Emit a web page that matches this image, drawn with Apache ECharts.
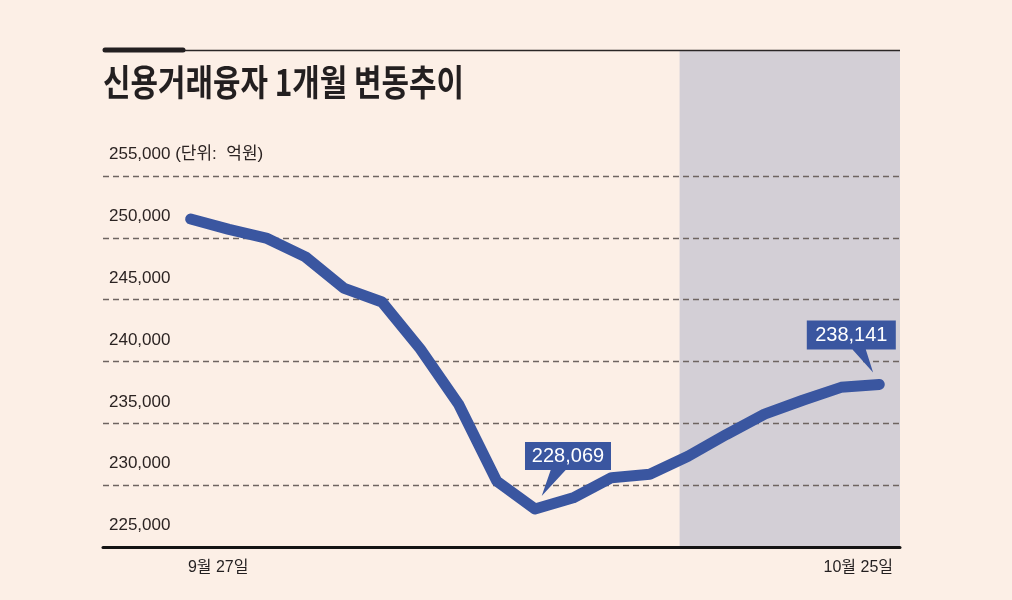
<!DOCTYPE html>
<html>
<head>
<meta charset="utf-8">
<title>신용거래융자 1개월 변동추이</title>
<script src="https://cdn.jsdelivr.net/npm/echarts@6/dist/echarts.min.js"></script>
<style>
html, body { margin: 0; padding: 0; background: #fcefe6; }
#chart { width: 1012px; height: 600px; }
</style>
</head>
<body>
<div id="chart"></div>
<script>
// 거래일 (9월 27일 ~ 10월 25일)
var dates = ['9월 27일', '9월 28일', '9월 29일', '9월 30일', '10월 1일',
             '10월 5일', '10월 6일', '10월 7일', '10월 8일', '10월 12일',
             '10월 13일', '10월 14일', '10월 15일', '10월 18일', '10월 19일',
             '10월 20일', '10월 21일', '10월 22일', '10월 25일'];
// 신용거래융자 잔고 (억원)
var balance = [251520, 250680, 249950, 248460, 245940, 244810, 241020, 236560, 230330, 228069,
               228980, 230600, 230880, 232340, 234090, 235750, 236870, 237910, 238141];
// y축 눈금
var yTicks = [225000, 230000, 235000, 240000, 245000, 250000, 255000];
var unitText = '(단위:  억원)';
// 표시할 날짜 / 말풍선 위치 (인덱스)
var shownDates = [0, dates.length - 1];
var calloutIdx = [9, dates.length - 1];
// 음영 구간 시작 (15일과 18일 사이)
var shadeFrom = 12.78;

var xMin = -2.292, xMax = 18.541;
var font = "'Liberation Sans', 'Noto Sans CJK KR', sans-serif";
var blue = '#3a56a0';

var chart = echarts.init(document.getElementById('chart'));

function fmt(v) {
    return v.toLocaleString('en-US');
}

var option = {
    backgroundColor: '#fcefe6',
    animation: false,
    graphic: [
        { type: 'line', shape: { x1: 103, y1: 50.5, x2: 900, y2: 50.5 }, style: { stroke: '#2a2626', lineWidth: 1.5 }, z: 10 },
        { type: 'line', shape: { x1: 105, y1: 50, x2: 183, y2: 50 }, style: { stroke: '#231f20', lineWidth: 5, lineCap: 'round' }, z: 11 },
        { type: 'text', x: 103, y: 82, scaleX: 0.83, z: 10,
          style: { text: '신용거래융자 1개월 변동추이', x: 0, y: 0, fill: '#231f20',
                   font: "bold 36px 'Noto Sans CJK KR', sans-serif", verticalAlign: 'middle' } }
    ],
    grid: [
        { left: 103, right: 112, top: 50, bottom: 53 },
        { left: 103, right: 112, top: 176, bottom: 53 }
    ],
    xAxis: [
        { gridIndex: 0, type: 'value', min: xMin, max: xMax, show: false },
        { gridIndex: 1, type: 'value', min: xMin, max: xMax,
          axisLine: { show: true, onZero: false, lineStyle: { color: '#141414', width: 3 } },
          axisTick: { show: false },
          splitLine: { show: false },
          axisLabel: {
              customValues: shownDates,
              margin: 13,
              color: '#231f20',
              fontSize: 16,
              fontFamily: font,
              formatter: function (v) {
                  return (v === 0 ? '{l|' : '{r|') + dates[v] + '}';
              },
              rich: {
                  l: { fontSize: 16, fontFamily: font, color: '#231f20', padding: [0, 0, 0, 55] },
                  r: { fontSize: 16, fontFamily: font, color: '#231f20', padding: [0, 42, 0, 0] }
              }
          } }
    ],
    yAxis: [
        { gridIndex: 0, type: 'value', min: 0, max: 1, show: false },
        { gridIndex: 1, type: 'value', min: yTicks[0], max: yTicks[yTicks.length - 1],
          interval: yTicks[1] - yTicks[0],
          axisLine: { show: false },
          axisTick: { show: false },
          splitLine: { lineStyle: { color: '#6e6461', type: [6, 4], width: 1.3 } },
          axisLabel: {
              inside: true,
              margin: 6,
              align: 'left',
              verticalAlign: 'bottom',
              lineHeight: 43,
              showMinLabel: true,
              showMaxLabel: true,
              color: '#2b2322',
              fontSize: 17,
              fontFamily: font,
              formatter: function (v) {
                  return v === yTicks[yTicks.length - 1] ? fmt(v) + ' ' + unitText : fmt(v);
              }
          } }
    ],
    series: [
        {
            // 음영 구간
            type: 'line',
            xAxisIndex: 0,
            yAxisIndex: 0,
            data: [],
            z: -1,
            markArea: {
                silent: true,
                z: -1,
                itemStyle: { color: '#d3cfd6' },
                data: [[{ xAxis: shadeFrom, yAxis: 0 }, { xAxis: xMax, yAxis: 1 }]]
            }
        },
        {
            type: 'line',
            xAxisIndex: 1,
            yAxisIndex: 1,
            data: balance.map(function (v, i) { return [i, v]; }),
            symbol: 'none',
            z: 3,
            lineStyle: { color: blue, width: 11, cap: 'round', join: 'round' },
            markPoint: {
                silent: true,
                symbolKeepAspect: false,
                itemStyle: { color: blue },
                label: {
                    show: true,
                    position: 'inside',
                    color: '#fff',
                    fontSize: 20,
                    fontFamily: font,
                    formatter: function (p) { return fmt(p.value); }
                },
                data: [
                    { coord: [calloutIdx[0], balance[calloutIdx[0]]], value: balance[calloutIdx[0]],
                      symbol: 'path://M0 0L86 0L86 28L40.7 28L16.7 54L25.7 28L0 28Z',
                      symbolSize: [86, 54], symbolOffset: [33, -40],
                      label: { offset: [0, -13] } },
                    { coord: [calloutIdx[1], balance[calloutIdx[1]]], value: balance[calloutIdx[1]],
                      symbol: 'path://M0 0L89 0L89 29L59 29L66.3 52L45.7 29L0 29Z',
                      symbolSize: [89, 52], symbolOffset: [-28, -38],
                      label: { offset: [0, -11.5] } }
                ]
            }
        }
    ]
};

chart.setOption(option);
</script>
</body>
</html>
